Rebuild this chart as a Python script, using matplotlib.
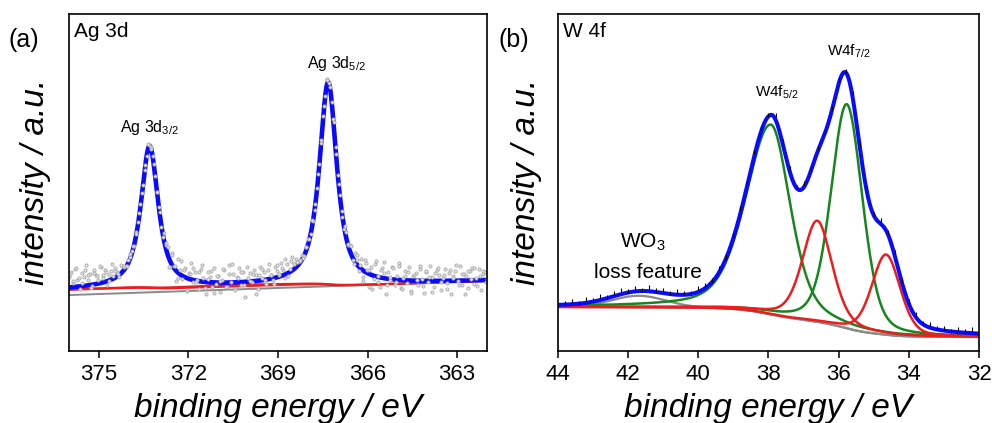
import numpy as np
import matplotlib.pyplot as plt

plt.rcParams['font.family'] = 'Liberation Sans'
plt.rcParams['mathtext.fontset'] = 'custom'
plt.rcParams['mathtext.rm'] = 'Liberation Sans'
plt.rcParams['mathtext.it'] = 'Liberation Sans:italic'

# --- Ag 3d fit (pseudo-Voigt components on linear + Shirley background) ---
ag_labels = ['Ag 3d$_{3/2}$', 'Ag 3d$_{5/2}$']
ag_center = [373.30, 367.32]
ag_height = [0.42, 0.60]
ag_fwhm = [0.70, 0.70]
ag_lorentz = [0.85, 0.85]
ag_bg_edges = [376.0, 362.0]
ag_bg_levels = [0.166, 0.208]
ag_shirley_step = 0.016
ag_ticks = [375, 372, 369, 366, 363]
# measured counts minus fit (x1e-3), two sweeps, 376 -> 362 eV
ag_resid = [30, 45, 12, 52, 20, -8, 38, 25, 60, 15, 33, -5, 42, 28, 10, 48, 22, 36, -12, 18,
            25, 8, 30, 14, -6, 20, 10, 4, 12, 6,
            5, -3, 8, 2, 10, 14, 4, -2, 6, 3, 9, 0, 7, 12, -4, 15, 8,
            22, -18, 35, 5, -30, 40, 12, -10, 28, -40, 18, 48, -6, 25, 2, -22, 38, 10, -35, 30,
            15, -15, 44, -4, 20, -28, 8, 36, -12, 52, 0, 24, -20, 16, 42, -8, 30, -45, 12, 26,
            -2, 34, 18, -25, 40, 6, 22, -14, 46, 10, -6, 32, 20, 4, 38, 14, -10, 28, 8, 42, 16, 24,
            10, 4, 14, -3, 8, 12, 2, 6, -4, 9, 15, 3, 7, 0, 11, 5, -2, 8, 13, 1,
            6, 10, -5, 18, 4, 22, -8, 26, 12, -12, 30,
            -20, 35, 8, -38, 24, -10, 45, 2, -28, 30, 16, -45, 20, -4, 38, -16, 12, 50, -24, 6,
            28, -8, 40, -32, 14, 22, -12, 34, 4, -36, 26, -2, 44, 10, -18, 32, 18, -26, 8, 36,
            -6, 24, -40, 15, 30, 0, 42, -14, 20, 12, -22, 28, 38, -10, 6, 34, -30, 18, 25, 2]
ag_resid_scan2 = [40, 18, 55, 26, 8, 47, 30, -10, 35, 22, 50, 12, 28, -2, 44,
                  20, 6, 24, 10, -4, 12, 8,
                  3, 10, -2, 6, 12, 0, 8, 4, 14, -5, 18,
                  -25, 30, 10, -15, 42, 20, -34, 14, 36, -5, 26, 48, -18, 8, 32, -30, 18, 4, 40, -12,
                  24, 54, -22, 12, 30, -8, 45, 2, 20, -38, 16, 34, -2, 28, 10, -16, 38, 6, 22, 44,
                  -10, 30, 14,
                  12, 6, -4, 10, 3, 14, 0, 8, 5, -3, 11, 7, 2, 9, 16, -6, 20, 4, 24, -10, 30, 8,
                  -30, 28, 12, -42, 36, -14, 22, 48, -20, 6, 34, -8, 40, -26, 14, 26, -36, 18, 2, 44,
                  -16, 30, 10, -32, 24, 38, -4, 16, -24, 32, 8, 46, -12, 20, -40, 28, 4, 36, -18, 12,
                  26, -6]

# --- W 4f fit (high-BE / low-BE half widths allow a tailed line shape) ---
w_center = [37.93, 35.77, 36.61, 34.65]
w_height = [0.563, 0.665, 0.30, 0.238]
w_fwhm_hi = [1.70, 1.05, 1.00, 0.95]
w_fwhm_lo = [1.30, 1.05, 1.00, 0.95]
w_lorentz = [0.40, 0.30, 0.40, 0.30]
w_colors = ['#17861c', '#17861c', '#ee1c1c', '#ee1c1c']
w_loss_center = 41.7
w_loss_height = 0.034
w_loss_fwhm = 1.8
w_bg_levels = [0.1306, 0.0415]   # high-BE side, low-BE side
w_ticks = [44, 42, 40, 38, 36, 34, 32]
w_resid = [4, 9, 2, 11, 6, 13, 3, 8, 12, 5, 10, 2, 14, 7, 9, 4, 11, 6, 3, 12,
           8, 5, 10, 1, 7, 13, 4, 9, 6, 2, 11, 5, 8, 3, 12, 7, 10, 4, 6, 9,
           2, 11, 5, 8, 3, 10, 6, 12, 4, 7, 9, 3, 11, 5, 8, 2, 10, 6, 13]

BLUE = '#0a0aff'
RED = '#ee1c1c'
GRAY = '#8a8a8a'


def pvoigt(x, c, h, w_hi, w_lo, eta):
    w = np.where(x > c, w_hi, w_lo)
    u = (x - c) / w
    g = np.exp(-4 * np.log(2) * u ** 2)
    l = 1 / (1 + 4 * u ** 2)
    return h * (eta * l + (1 - eta) * g)


def shirley_fraction(x, signal):
    # cumulative area from the low binding energy side
    order = np.argsort(x)
    cum = np.cumsum(signal[order])
    frac = np.empty_like(x)
    frac[order] = cum / cum[-1]
    return frac


fig = plt.figure(figsize=(9.92, 4.23), dpi=100)
W, H = 992, 423


def axes_px(x0, y0, x1, y1):
    return fig.add_axes([x0 / W, 1 - y1 / H, (x1 - x0) / W, (y1 - y0) / H])


def style(ax, xlim, ticks):
    ax.set_xlim(*xlim)
    ax.set_ylim(0, 1)
    ax.set_xticks(ticks)
    ax.set_yticks([])
    ax.tick_params(axis='x', direction='out', length=5, width=1.1,
                   labelsize=16, pad=4, top=False)
    for s in ax.spines.values():
        s.set_linewidth(1.2)


# ---------------- (a) Ag 3d ----------------
ax1 = axes_px(69, 14, 487, 351)
style(ax1, (376, 362), ag_ticks)

def ag_model(x):
    comps = [pvoigt(x, c, h, w, w, e) for c, h, w, e in
             zip(ag_center, ag_height, ag_fwhm, ag_lorentz)]
    lin = np.interp(x, ag_bg_edges[::-1], ag_bg_levels[::-1])
    bg = lin + ag_shirley_step * shirley_fraction(x, sum(comps))
    return lin, bg, comps

xa = np.linspace(376, 362, 1401)
lin_a, bg_a, comps_a = ag_model(xa)
fit_a = bg_a + sum(comps_a)

ax1.plot(xa, lin_a, color=GRAY, lw=1.4)
ax1.plot(xa, bg_a, color=RED, lw=1.6)
for comp in comps_a:
    ax1.plot(xa, bg_a + comp, color=RED, lw=1.6)
ax1.plot(xa, fit_a, color=BLUE, lw=3.3)

for resid, lo, hi in [(ag_resid, 376.0, 362.0), (ag_resid_scan2, 375.95, 362.05)]:
    ea = np.linspace(lo, hi, len(resid))
    _, bg_pts, comps_pts = ag_model(ea)
    ya = bg_pts + sum(comps_pts) + np.array(resid) * 1e-3
    ax1.plot(ea, ya, 'o', ms=2.3, mfc='#e2e2e2', mec='#a9a9a9', mew=0.6, ls='none')

ax1.text(0.012, 0.975, 'Ag 3d', transform=ax1.transAxes, fontsize=15,
         ha='left', va='top')
ax1.text(373.32, 0.651, ag_labels[0], fontsize=11.5, ha='center', va='baseline')
ax1.text(367.04, 0.841, ag_labels[1], fontsize=11.5, ha='center', va='baseline')

# ---------------- (b) W 4f ----------------
ax2 = axes_px(558, 14, 979, 351)
style(ax2, (44, 32), w_ticks)

def w_model(x):
    comps = [pvoigt(x, c, h, wh, wl, e) for c, h, wh, wl, e in
             zip(w_center, w_height, w_fwhm_hi, w_fwhm_lo, w_lorentz)]
    loss = pvoigt(x, w_loss_center, w_loss_height, w_loss_fwhm, w_loss_fwhm, 0.0)
    bg = w_bg_levels[1] + (w_bg_levels[0] - w_bg_levels[1]) * shirley_fraction(x, sum(comps))
    return bg, comps, loss

xw = np.linspace(44, 32, 1201)
bg_w, comps_w, loss_w = w_model(xw)
fit_w = bg_w + sum(comps_w) + loss_w

ax2.plot(xw, bg_w, color=GRAY, lw=1.6)
ax2.plot(xw, bg_w + loss_w, color=GRAY, lw=1.6)
for comp, col in zip(comps_w, w_colors):
    ax2.plot(xw, bg_w + comp, color=col, lw=1.8)
ax2.plot(xw, fit_w, color=BLUE, lw=2.9)

ew = np.linspace(43.8, 32.2, len(w_resid))
bg_p, comps_p, loss_p = w_model(ew)
yw = bg_p + sum(comps_p) + loss_p + np.array(w_resid) * 1e-3
ax2.plot(ew, yw, '|', ms=3.5, mew=0.8, color='black', ls='none')

ax2.text(0.012, 0.975, 'W 4f', transform=ax2.transAxes, fontsize=15,
         ha='left', va='top')
ax2.text(37.77, 0.755, 'W4f$_{5/2}$', fontsize=11, ha='center', va='baseline')
ax2.text(35.70, 0.878, 'W4f$_{7/2}$', fontsize=11, ha='center', va='baseline')
ax2.text(41.58, 0.306, 'WO$_{3}$', fontsize=15, ha='center', va='baseline')
ax2.text(41.43, 0.217, 'loss feature', fontsize=15, ha='center', va='baseline')

# axis titles and panel letters
for x0, x1 in [(69, 487), (558, 979)]:
    fig.text((x0 + x1) / 2 / W, 6 / H, 'binding energy / eV', fontsize=24,
             style='italic', ha='center', va='baseline')
for xc in (36, 527):
    fig.text(xc / W, 1 - 182 / H, 'intensity / a.u.', fontsize=24,
             style='italic', rotation=90, ha='center', va='center')
fig.text(8 / W, 1 - 40 / H, '(a)', fontsize=18, ha='left', va='center')
fig.text(498 / W, 1 - 40 / H, '(b)', fontsize=18, ha='left', va='center')

fig.savefig('out.png', dpi=100)
